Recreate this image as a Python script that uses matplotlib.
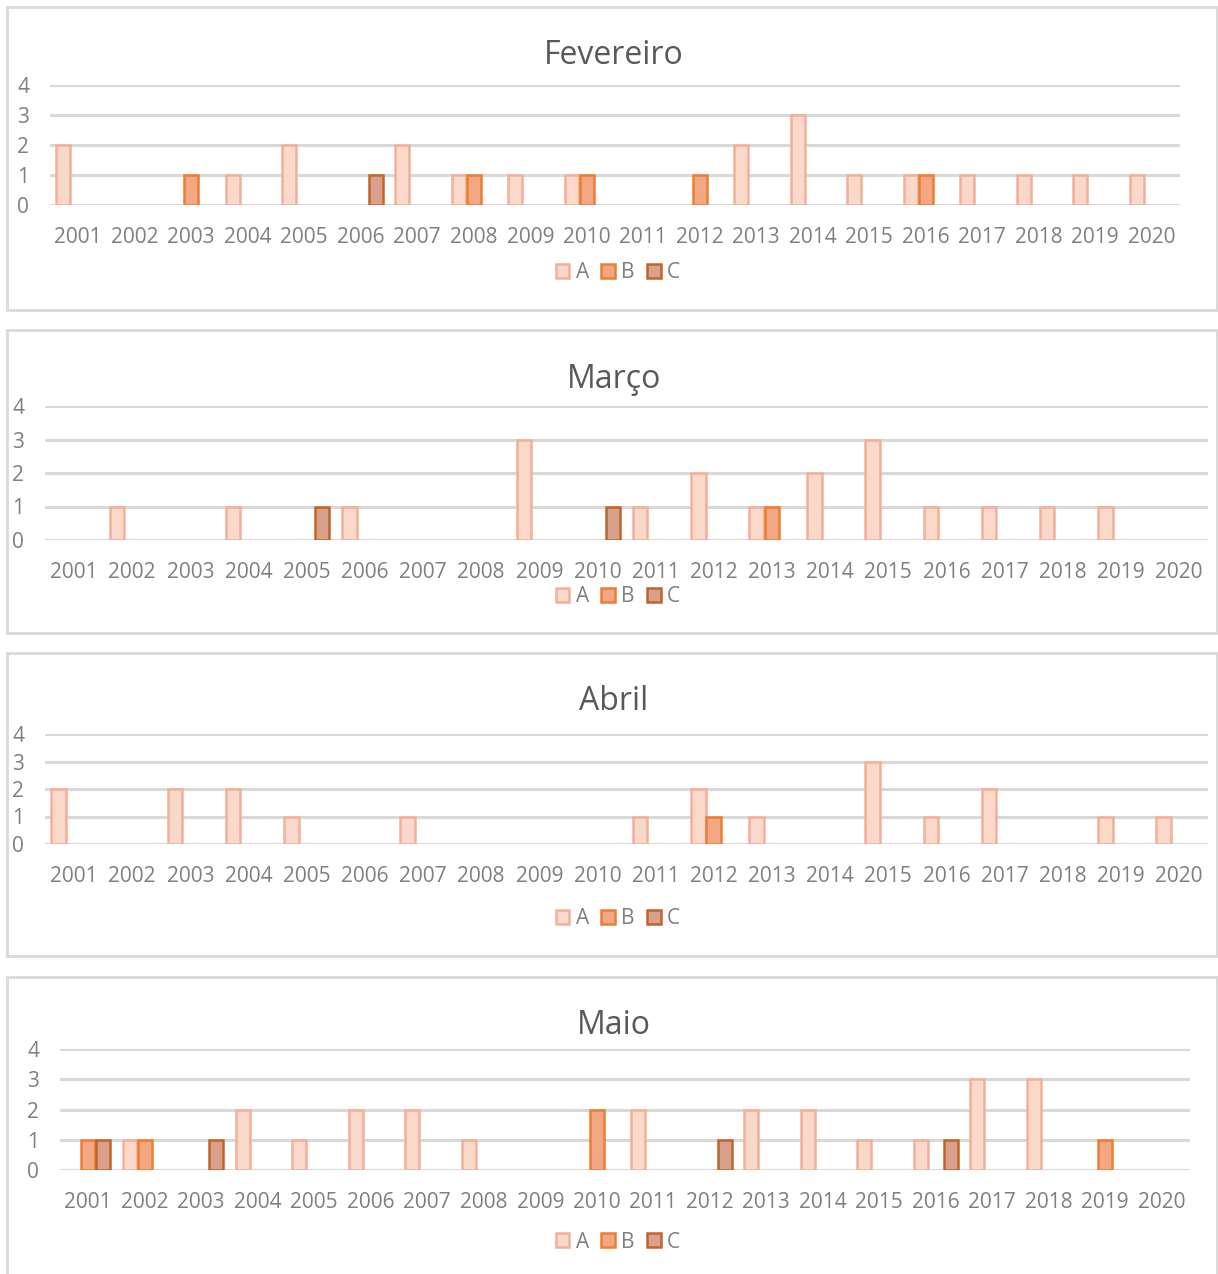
import matplotlib
matplotlib.use("Agg")
import matplotlib.pyplot as plt
from matplotlib.patches import Rectangle, Patch

# ---- data -------------------------------------------------------------
years = [str(y) for y in range(2001, 2021)]
series_names = ["A", "B", "C"]
y_ticks = [0, 1, 2, 3, 4]

fev_a = [2, 0, 0, 1, 2, 0, 2, 1, 1, 1, 0, 0, 2, 3, 1, 1, 1, 1, 1, 1]
fev_b = [0, 0, 1, 0, 0, 0, 0, 1, 0, 1, 0, 1, 0, 0, 0, 1, 0, 0, 0, 0]
fev_c = [0, 0, 0, 0, 0, 1, 0, 0, 0, 0, 0, 0, 0, 0, 0, 0, 0, 0, 0, 0]

mar_a = [0, 1, 0, 1, 0, 1, 0, 0, 3, 0, 1, 2, 1, 2, 3, 1, 1, 1, 1, 0]
mar_b = [0, 0, 0, 0, 0, 0, 0, 0, 0, 0, 0, 0, 1, 0, 0, 0, 0, 0, 0, 0]
mar_c = [0, 0, 0, 0, 1, 0, 0, 0, 0, 1, 0, 0, 0, 0, 0, 0, 0, 0, 0, 0]

abr_a = [2, 0, 2, 2, 1, 0, 1, 0, 0, 0, 1, 2, 1, 0, 3, 1, 2, 0, 1, 1]
abr_b = [0, 0, 0, 0, 0, 0, 0, 0, 0, 0, 0, 1, 0, 0, 0, 0, 0, 0, 0, 0]
abr_c = [0, 0, 0, 0, 0, 0, 0, 0, 0, 0, 0, 0, 0, 0, 0, 0, 0, 0, 0, 0]

mai_a = [0, 1, 0, 2, 1, 2, 2, 1, 0, 0, 2, 0, 2, 2, 1, 1, 3, 3, 0, 0]
mai_b = [1, 1, 0, 0, 0, 0, 0, 0, 0, 2, 0, 0, 0, 0, 0, 0, 0, 0, 1, 0]
mai_c = [1, 0, 1, 0, 0, 0, 0, 0, 0, 0, 0, 1, 0, 0, 0, 1, 0, 0, 0, 0]

# ---- style ------------------------------------------------------------
FONT = "Open Sans"
fills = ["#FAD8CA", "#F4A783", "#D9A18B"]
edges = ["#F2B09A", "#ED7D31", "#C0652A"]
grid_color = "#D9D9D9"
text_color = "#7F7F7F"
title_color = "#595959"

W, H = 1218, 1274
fig = plt.figure(figsize=(W / 100, H / 100), dpi=100)


def fx(px):
    return px / W


def fy(py):
    return 1 - py / H


# box: (left, top, right, bottom); plot: (left, top(4), right, bottom(0))
panels = [
    dict(title="Fevereiro", data=(fev_a, fev_b, fev_c),
         box=(7, 7, 1217, 310), plot=(50, 85, 1180, 205),
         title_y=52, years_y=236, legend_y=272),
    dict(title="Março", data=(mar_a, mar_b, mar_c),
         box=(7, 330, 1217, 633), plot=(45, 406, 1208, 540),
         title_y=376, years_y=571, legend_y=596),
    dict(title="Abril", data=(abr_a, abr_b, abr_c),
         box=(7, 653, 1217, 956), plot=(45, 734, 1208, 844),
         title_y=698, years_y=875, legend_y=918),
    dict(title="Maio", data=(mai_a, mai_b, mai_c),
         box=(7, 977, 1217, 1290), plot=(60, 1049, 1190, 1170),
         title_y=1022, years_y=1201, legend_y=1241),
]

bar_w = 0.25
offsets = [-0.265, 0.0, 0.265]
x = list(range(len(years)))

for p in panels:
    bl, bt, br, bb = p["box"]
    fig.patches.append(Rectangle((fx(bl), fy(bb)), fx(br - bl), (bb - bt) / H,
                                 transform=fig.transFigure, facecolor="white",
                                 edgecolor=grid_color, linewidth=2, zorder=-5))
    pl, pt, pr, pb = p["plot"]
    ax = fig.add_axes([fx(pl), fy(pb), fx(pr - pl), (pb - pt) / H])
    ax.set_facecolor("none")
    for i, vals in enumerate(p["data"]):
        bars = ax.bar([xi + offsets[i] for xi in x], vals, width=bar_w,
                      color=fills[i], edgecolor=edges[i], linewidth=1.8, zorder=3)
        # empty categories show no bar at all
        for rect, v in zip(bars, vals):
            if v == 0:
                rect.set_visible(False)
    ax.set_xlim(-0.5, len(years) - 0.5)
    ax.set_ylim(0, 4)
    ax.set_yticks(y_ticks)
    ax.set_xticks(x)
    ax.set_xticklabels(years)
    for s in ax.spines.values():
        s.set_visible(False)
    ax.yaxis.grid(True, color=grid_color, linewidth=2.2, zorder=0)
    ax.set_axisbelow(True)
    ax.tick_params(axis="both", length=0, labelcolor=text_color, labelsize=15)
    ax.tick_params(axis="x", pad=(p["years_y"] - pb - 9) * 0.72)
    ax.tick_params(axis="y", pad=15)
    for lab in ax.get_xticklabels() + ax.get_yticklabels():
        lab.set_fontfamily(FONT)

    fig.text(0.5 + fx(5), fy(p["title_y"] + 3), p["title"], ha="center",
             va="center", fontsize=23, color=title_color, family=FONT)

    handles = [Patch(facecolor=fills[i], edgecolor=edges[i], linewidth=1.8)
               for i in range(3)]
    fig.legend(handles, series_names, loc="center",
               bbox_to_anchor=(fx(618), fy(p["legend_y"] + 1)), ncol=3,
               frameon=False, handlelength=0.65, handleheight=0.65,
               handletextpad=0.3, columnspacing=0.6,
               prop=dict(family=FONT, size=15), labelcolor=text_color,
               borderpad=0, borderaxespad=0)

fig.savefig("out.png", dpi=100)
